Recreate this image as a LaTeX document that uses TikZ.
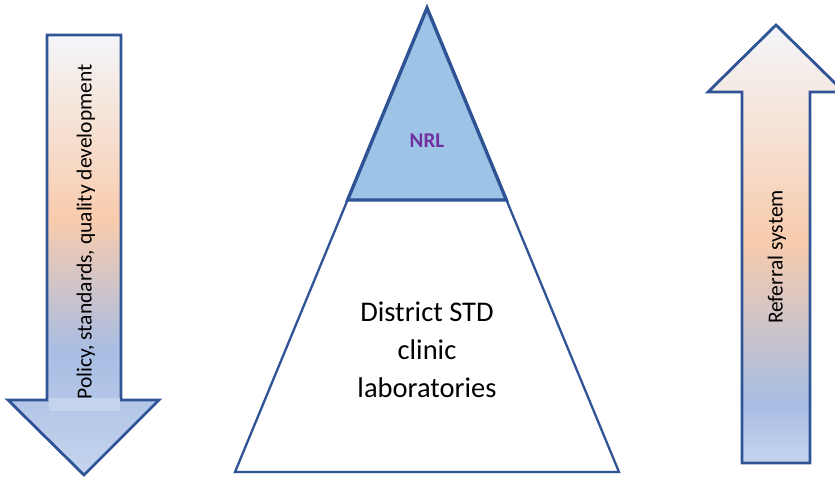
\documentclass[tikz,border=0pt]{standalone}
\usepackage{fontspec}
\setmainfont{Carlito}
\definecolor{edge}{HTML}{2F5496}
\definecolor{nrlfill}{HTML}{9DC3E6}
\definecolor{nrltext}{HTML}{7030A0}
\definecolor{gbot}{HTML}{C5D4EE}
\definecolor{gblue}{HTML}{A8BDE3}
\definecolor{gpeach}{HTML}{F8CBAD}
\definecolor{gtop}{HTML}{F4F5FA}
\definecolor{gpale}{HTML}{F5E6DC}
\pgfdeclareverticalshading{leftarr}{100bp}{color(0bp)=(gbot); color(25bp)=(gbot); color(39bp)=(gblue); color(54bp)=(gpeach); color(67bp)=(gpale); color(75bp)=(gtop); color(100bp)=(gtop)}
\pgfdeclareverticalshading{rightarr}{100bp}{color(0bp)=(gbot); color(25bp)=(gbot); color(32bp)=(gblue); color(50.5bp)=(gpeach); color(65bp)=(gpale); color(75bp)=(gtop); color(100bp)=(gtop)}
\tikzset{
  arrowshape/.style={draw=edge, line width=2.8pt, line join=miter},
  sidetext/.style={font=\fontsize{21.5}{25}\selectfont, text=black, rotate=90, inner sep=0pt},
}
\begin{document}
\begin{tikzpicture}[x=1pt,y=-1pt]
\useasboundingbox (0,0) rectangle (835,477);
% left arrow
\path[arrowshape, shading=leftarr] (47,35) -- (121,35) -- (121,400) -- (159,400) -- (84,475) -- (8,400) -- (47,400) -- cycle;
\fill[gbot] (48.5,398) rectangle (119.5,411);
\node[sidetext] (policy) at (86,232) {Policy, standards, quality development};
% right arrow
\path[arrowshape, shading=rightarr] (742,463) -- (742,92) -- (708,92) -- (776,25) -- (844,92) -- (810,92) -- (810,463) -- cycle;
\node[sidetext] (referral) at (777,257) {Referral system};
% pyramid
\coordinate (apex) at (427,8);
\coordinate (bl) at (235,472);
\coordinate (br) at (619,472);
\coordinate (ml) at (347.6,200);
\coordinate (mr) at (506.4,200);
\draw[edge, line width=2.3pt, line join=miter] (apex) -- (bl) -- (br) -- cycle;
\draw[edge, fill=nrlfill, line width=3.4pt, line join=miter] (apex) -- (ml) -- (mr) -- cycle;
\node[font=\fontsize{21}{24}\selectfont\bfseries, text=nrltext] (nrl) at (427,141) {NRL};
\node[font=\fontsize{28.5}{38}\selectfont, align=center, text=black, inner sep=0pt] (district) at (427,350) {District STD\\clinic\\laboratories};
\end{tikzpicture}
\end{document}
